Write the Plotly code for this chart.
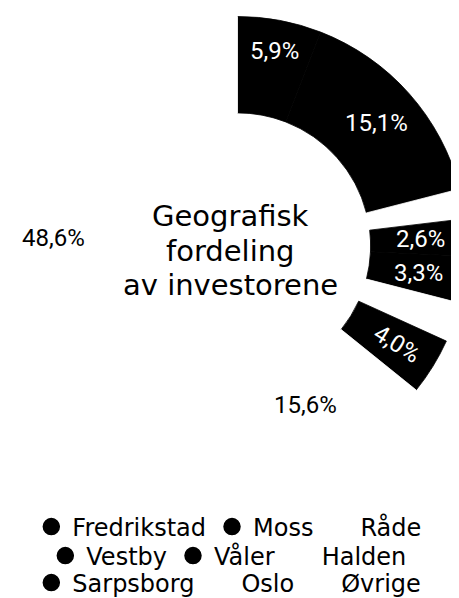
import numpy as np
import plotly.graph_objects as go

# ---- data ----
labels = ["Fredrikstad", "Moss", "Råde", "Vestby", "Våler", "Halden", "Sarpsborg", "Oslo", "Øvrige"]
values = [5.9, 15.1, 2.1, 2.6, 3.3, 2.8, 4.0, 15.6, 48.6]
show_label = [True, True, False, True, True, False, True, True, True]
title_lines = ["Geografisk", "fordeling", "av investorene"]

# ---- styles ----
slice_colors = ["#000000", "#000000", "#ffffff", "#000000", "#000000",
                "#ffffff", "#000000", "#ffffff", "#ffffff"]
text_colors = ["#ffffff", "#ffffff", "#ffffff", "#ffffff", "#ffffff",
               "#ffffff", "#ffffff", "#000000", "#000000"]
radial_label = [False, False, False, False, False, False, True, False, False]
label_r_offset = [17, 4, 0, 2, 2, 0, 6, -8, 3]   # px, fine placement along the radius
FONT = "DejaVu Sans"
LABEL_FONT = "Roboto"
W, H = 459, 598

# layout helpers (pixel positions inside the figure)
HOLE = 0.58
pie_cx = W / 2
pie_cy = 238
pie_r = W / 2
title_x = 222
title_y = [208, 243, 276.5]
legend_y = [519, 548, 575]
legend_x = 0.48

fig = go.Figure()
fig.add_trace(go.Pie(
    labels=labels,
    values=values,
    sort=False,
    direction="clockwise",
    rotation=0,
    hole=HOLE,
    marker=dict(colors=slice_colors, line=dict(width=0.8, color=slice_colors)),
    textinfo="none",
    domain=dict(x=[0, 1], y=[(H - pie_cy - pie_r) / H, (H - pie_cy + pie_r) / H]),
    showlegend=False,
    hoverinfo="label+percent",
))

# percentage labels at the middle of the ring, derived from the values
vals = np.asarray(values, dtype=float)
share = vals / vals.sum()
start_deg = np.concatenate([[0.0], np.cumsum(share)[:-1]]) * 360
mid_deg = start_deg + share * 180
r_mid = pie_r * (1 + HOLE) / 2

annotations = []
for i in range(len(labels)):
    if not show_label[i]:
        continue
    th = np.radians(mid_deg[i])
    rr = r_mid + label_r_offset[i]
    px = pie_cx + rr * np.sin(th)
    py = pie_cy - rr * np.cos(th)
    txt = f"{share[i] * 100:.1f}".replace(".", ",") + "%"
    annotations.append(dict(
        text=txt, x=px / W, y=1 - py / H, xref="paper", yref="paper",
        xanchor="center", yanchor="middle", showarrow=False,
        textangle=(mid_deg[i] - 90) if radial_label[i] else 0,
        font=dict(family=LABEL_FONT, size=24, color=text_colors[i]),
    ))

# centre title
for line, ly in zip(title_lines, title_y):
    annotations.append(dict(
        text=line, x=title_x / W, y=1 - ly / H, xref="paper", yref="paper",
        xanchor="center", yanchor="middle", showarrow=False,
        font=dict(family=FONT, size=29, color="#000000"),
    ))

# legend entries (three centred rows, round markers)
for i, (lab, col) in enumerate(zip(labels, slice_colors)):
    row = i // 3
    fig.add_trace(go.Scatter(
        x=[None], y=[None], mode="markers", name=lab,
        marker=dict(symbol="circle", size=16, color=col, line=dict(width=1.5, color=col)),
        legend="legend" if row == 0 else f"legend{row + 1}",
        showlegend=True,
    ))

legend_common = dict(orientation="h", x=legend_x, xanchor="center", yanchor="middle",
                     itemwidth=32,
                     bgcolor="rgba(0,0,0,0)", font=dict(family=FONT, size=24, color="#000000"),
                     itemclick=False, itemdoubleclick=False)

fig.update_layout(
    width=W, height=H,
    margin=dict(l=0, r=0, t=0, b=0, autoexpand=False),
    paper_bgcolor="#ffffff", plot_bgcolor="#ffffff",
    separators=", ",
    font=dict(family=FONT),
    xaxis=dict(visible=False), yaxis=dict(visible=False),
    legend=dict(legend_common, y=1 - legend_y[0] / H),
    legend2=dict(legend_common, y=1 - legend_y[1] / H),
    legend3=dict(legend_common, y=1 - legend_y[2] / H),
    annotations=annotations,
)

fig.write_html("out.html")
